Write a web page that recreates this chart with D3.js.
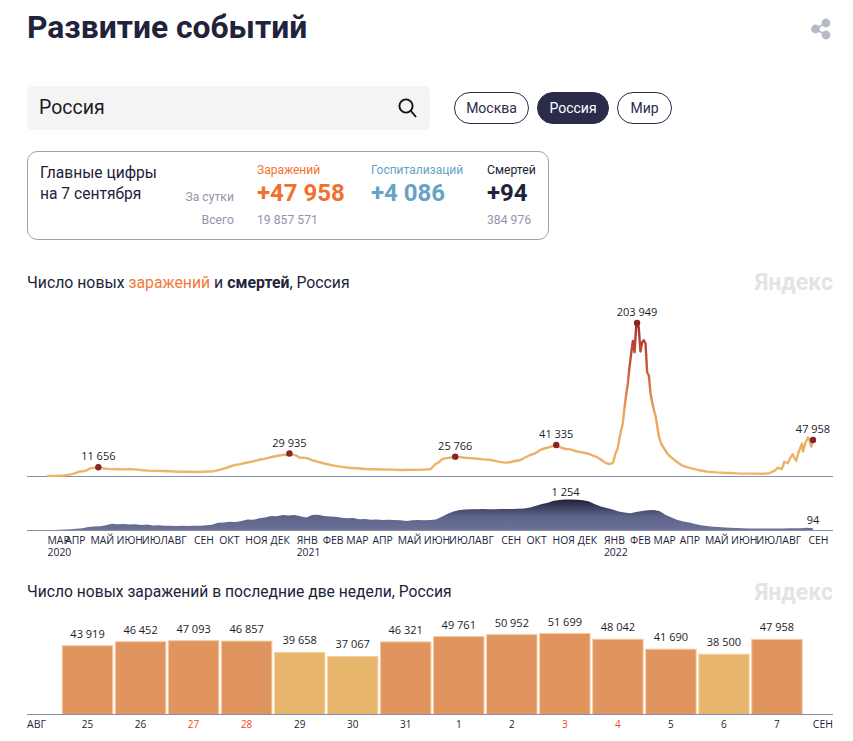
<!DOCTYPE html>
<html lang="ru">
<head>
<meta charset="utf-8">
<title>Развитие событий</title>
<script src="https://cdn.jsdelivr.net/npm/d3@7"></script>
<style>
  html, body { margin: 0; padding: 0; background: #fff; }
  svg { display: block; }
  text { font-family: Roboto, "Noto Sans", sans-serif; fill: #21233a; }
  .num text, text.num { font-family: "Open Sans", "Noto Sans", sans-serif; font-size: 11px; }
</style>
</head>
<body>
<svg id="chart"></svg>
<script>
// days counted from the first day of the series (11 March 2020)
const startDate = new Date(2020, 2, 11);

const caseDays = [0, 10, 20, 27, 33, 39, 43, 47, 50, 53, 57, 61, 66, 72, 78, 84, 90, 96, 102, 108, 114, 120, 128, 136, 144, 152, 160, 168, 176, 184, 192, 198, 204, 210, 216, 222, 228, 234, 240, 246, 252, 258, 264, 270, 274, 278, 282, 286, 288, 292, 296, 300, 306, 310, 315, 320, 328, 338, 348, 358, 368, 378, 388, 400, 410, 420, 430, 440, 450, 456, 458, 461, 465, 470, 475, 480, 485, 490, 497, 503, 511, 518, 525, 532, 538, 544, 550, 556, 562, 568, 574, 580, 586, 592, 598, 605, 610, 616, 622, 628, 634, 642, 648, 654, 660, 664, 668, 672, 673, 675, 678, 680, 682, 684, 686, 688, 690, 692, 694, 696, 698, 700, 701, 703, 705, 707, 709, 711, 713, 715, 717, 719, 721, 723, 725, 727, 730, 733, 737, 741, 748, 755, 761, 767, 775, 784, 795, 803, 811, 820, 830, 839, 848, 853, 858, 862, 865, 868, 871, 873, 876, 878, 880, 883, 886, 888, 890, 893, 897, 898, 901, 904, 906, 908, 910];
const caseValues = [20, 150, 600, 1800, 3500, 6000, 6400, 7400, 9500, 10600, 10900, 11656, 10400, 9500, 9200, 9000, 8800, 9000, 8900, 8500, 7600, 7100, 6800, 6700, 6300, 6000, 5700, 5600, 5300, 5700, 5900, 6400, 7800, 9800, 12000, 14400, 15500, 17000, 18300, 19800, 21600, 22800, 24500, 26000, 27000, 27600, 28500, 28000, 29935, 28600, 27400, 24700, 24200, 23500, 21000, 19500, 17000, 14500, 12500, 11000, 10300, 9300, 9000, 8700, 8500, 8000, 8300, 8200, 8600, 9300, 12000, 15500, 18000, 22800, 23800, 24600, 25766, 25200, 24300, 23800, 23000, 22200, 21700, 20200, 18800, 17800, 18300, 20000, 21000, 24700, 28000, 30300, 34700, 37000, 38800, 41335, 38200, 36000, 35500, 33000, 31800, 30000, 27500, 24800, 20500, 17200, 16000, 17200, 19500, 29000, 37000, 50000, 61000, 70000, 90000, 108000, 123000, 145000, 163000, 180000, 165000, 200000, 203949, 198000, 166000, 178000, 181000, 177000, 138000, 134000, 110000, 98000, 88000, 80000, 66000, 52000, 42000, 37000, 30000, 25500, 19000, 13800, 11500, 9800, 7600, 5800, 4800, 4300, 4000, 3500, 3200, 3100, 3000, 3000, 3800, 5800, 7500, 11000, 10000, 9300, 19000, 18000, 17000, 24000, 29000, 24000, 20000, 32000, 43500, 32500, 44000, 51500, 47000, 39000, 47958];

// one value per week from startDate
const deathValues = [10, 20, 30, 40, 55, 70, 95, 140, 165, 175, 215, 270, 255, 262, 245, 250, 225, 240, 205, 215, 190, 195, 180, 190, 185, 195, 190, 215, 230, 310, 325, 355, 345, 385, 440, 430, 495, 530, 590, 575, 625, 610, 630, 580, 525, 625, 640, 590, 570, 555, 515, 495, 505, 460, 470, 435, 440, 420, 435, 425, 415, 385, 410, 420, 415, 425, 440, 560, 680, 770, 825, 845, 860, 855, 865, 860, 858, 865, 868, 870, 875, 885, 930, 1000, 1070, 1120, 1200, 1235, 1254, 1250, 1245, 1225, 1170, 1060, 970, 910, 850, 770, 730, 700, 745, 785, 815, 825, 775, 630, 530, 420, 360, 320, 265, 215, 185, 155, 140, 125, 110, 105, 95, 85, 80, 78, 78, 80, 82, 85, 90, 92, 95, 110, 94];

const caseMarkerDays = [61, 288, 485, 605, 701, 910];
const deathLabelWeeks = [88, 130];

const monthLabels = ["МАР", "АПР", "МАЙ", "ИЮН", "ИЮЛ", "АВГ", "СЕН", "ОКТ", "НОЯ", "ДЕК", "ЯНВ", "ФЕВ", "МАР", "АПР", "МАЙ", "ИЮН", "ИЮЛ", "АВГ", "СЕН", "ОКТ", "НОЯ", "ДЕК", "ЯНВ", "ФЕВ", "МАР", "АПР", "МАЙ", "ИЮН", "ИЮЛ", "АВГ", "СЕН"];

const barDays = ["25", "26", "27", "28", "29", "30", "31", "1", "2", "3", "4", "5", "6", "7"];
const barValues = [43919, 46452, 47093, 46857, 39658, 37067, 46321, 49761, 50952, 51699, 48042, 41690, 38500, 47958];
const weekendDays = ["27", "28", "3", "4"];

const fmt = v => String(v).replace(/\B(?=(\d{3})+$)/g, " ");

const width = 853;
const height = 741;

const svg = d3.select("#chart").attr("width", width).attr("height", height);
const defs = svg.append("defs");

function txt(x, y, s, size, color, opts = {}) {
    return svg.append("text")
        .attr("x", x).attr("y", y)
        .attr("text-anchor", opts.anchor || "start")
        .style("font-size", size + "px")
        .style("font-weight", opts.weight || 400)
        .style("fill", color)
        .text(s);
}

// --- header ---
txt(27, 38, "Развитие событий", 31.8, "#21233a", { weight: 700 });

const share = svg.append("g").attr("fill", "#b5b9c9").attr("stroke", "#b5b9c9").attr("stroke-width", 1.6);
share.append("path").attr("fill", "none").attr("d", "M826 23L815 29L826 35");
share.append("circle").attr("cx", 826).attr("cy", 23).attr("r", 3.6);
share.append("circle").attr("cx", 815.5).attr("cy", 29).attr("r", 3.6);
share.append("circle").attr("cx", 826).attr("cy", 35).attr("r", 3.6);

// --- search and region switch ---
svg.append("rect").attr("x", 27).attr("y", 86).attr("width", 403).attr("height", 44).attr("rx", 6).attr("fill", "#f4f4f4");
txt(39, 114, "Россия", 19.5, "#1b1b1f");
const glass = svg.append("g").attr("fill", "none").attr("stroke", "#111").attr("stroke-width", 1.9);
glass.append("circle").attr("cx", 406).attr("cy", 106).attr("r", 6.6);
glass.append("line").attr("x1", 411).attr("y1", 111).attr("x2", 416).attr("y2", 117);

const pills = [
    { label: "Москва", x: 454, w: 75, on: false },
    { label: "Россия", x: 537, w: 72, on: true },
    { label: "Мир", x: 617, w: 55, on: false }
];
pills.forEach(p => {
    svg.append("rect").attr("x", p.x + 0.5).attr("y", 92.5).attr("width", p.w - 1).attr("height", 31).attr("rx", 15.5)
        .attr("fill", p.on ? "#2a2c4a" : "#fff").attr("stroke", "#2a2c4a");
    txt(p.x + p.w / 2, 113, p.label, 14, p.on ? "#fff" : "#2a2c4a", { anchor: "middle" });
});

// --- key figures card ---
svg.append("rect").attr("x", 27.5).attr("y", 151.5).attr("width", 521).attr("height", 88).attr("rx", 10)
    .attr("fill", "#fff").attr("stroke", "#9a9fb3");
txt(40, 178, "Главные цифры", 15.6, "#21233a");
txt(40, 199, "на 7 сентября", 15.6, "#21233a");
txt(234, 201, "За сутки", 12.2, "#9296ad", { anchor: "end" });
txt(234, 224, "Всего", 12.2, "#9296ad", { anchor: "end" });
txt(257, 174, "Заражений", 12, "#f2702e");
txt(257, 201, "+47 958", 24, "#f2702e", { weight: 700 });
txt(257, 224, "19 857 571", 12.2, "#9296ad");
txt(371, 174, "Госпитализаций", 12, "#67a3c6");
txt(371, 201, "+4 086", 24, "#67a3c6", { weight: 700 });
txt(487, 174, "Смертей", 12.2, "#21233a");
txt(487, 201, "+94", 24, "#21233a", { weight: 700 });
txt(487, 224, "384 976", 12.2, "#9296ad");

// --- titles ---
const t1 = txt(27, 288, "", 15.8, "#21233a");
t1.append("tspan").text("Число новых ");
t1.append("tspan").style("fill", "#f07a3a").text("заражений");
t1.append("tspan").text(" и ");
t1.append("tspan").style("font-weight", 700).text("смертей");
t1.append("tspan").text(", Россия");
txt(27, 597, "Число новых заражений в последние две недели, Россия", 15.65, "#21233a");
txt(833, 290, "Яндекс", 23, "#e4e4e4", { anchor: "end", weight: 700 });
txt(833, 600, "Яндекс", 23, "#e4e4e4", { anchor: "end", weight: 700 });

// --- scales ---
const dayDate = d => d3.timeDay.offset(startDate, d);
const x = d3.scaleTime().domain([startDate, new Date(2022, 8, 7)]).range([47, 813]);
const yCases = d3.scaleLinear().domain([0, 203949]).range([476, 323]);
const yDeaths = d3.scaleLinear().domain([0, 1254]).range([530.5, 499.5]);

// line colour goes by height
const lineGrad = defs.append("linearGradient").attr("id", "lineGrad").attr("gradientUnits", "userSpaceOnUse")
    .attr("x1", 0).attr("x2", 0).attr("y1", yCases(0)).attr("y2", yCases(203949));
lineGrad.append("stop").attr("offset", "0%").attr("stop-color", "#ecb66b");
lineGrad.append("stop").attr("offset", "40%").attr("stop-color", "#e8a85f");
lineGrad.append("stop").attr("offset", "70%").attr("stop-color", "#cc5a3a");
lineGrad.append("stop").attr("offset", "100%").attr("stop-color", "#a82f2c");

const areaGrad = defs.append("linearGradient").attr("id", "areaGrad").attr("gradientUnits", "userSpaceOnUse")
    .attr("x1", 0).attr("x2", 0).attr("y1", yDeaths(0)).attr("y2", yDeaths(1254));
areaGrad.append("stop").attr("offset", "0%").attr("stop-color", "#6c7197");
areaGrad.append("stop").attr("offset", "45%").attr("stop-color", "#5f648a");
areaGrad.append("stop").attr("offset", "100%").attr("stop-color", "#1f2138");

// --- deaths area ---
const deaths = deathValues.map((v, i) => ({ date: dayDate(i * 7), v }));
svg.append("path").datum(deaths)
    .attr("fill", "url(#areaGrad)")
    .attr("d", d3.area().x(d => x(d.date)).y0(yDeaths(0)).y1(d => yDeaths(d.v)));

// --- axis lines ---
[476.5, 530.5].forEach(y => {
    svg.append("line").attr("x1", 27).attr("x2", 833).attr("y1", y).attr("y2", y).attr("stroke", "#8a8fa8");
});

// --- cases line ---
const cases = caseDays.map((d, i) => ({ date: dayDate(d), v: caseValues[i] }));
svg.append("path").datum(cases)
    .attr("fill", "none")
    .attr("stroke", "url(#lineGrad)")
    .attr("stroke-width", 2.4)
    .attr("stroke-linejoin", "round")
    .attr("d", d3.line().x(d => x(d.date)).y(d => yCases(d.v)));

const markers = caseMarkerDays.map(d => ({ date: dayDate(d), v: caseValues[caseDays.indexOf(d)] }));
svg.append("g").selectAll("circle").data(markers).join("circle")
    .attr("cx", d => x(d.date)).attr("cy", d => yCases(d.v)).attr("r", 3.2).attr("fill", "#8b2226");
svg.append("g").attr("class", "num").selectAll("text").data(markers).join("text")
    .attr("x", d => x(d.date)).attr("y", d => yCases(d.v) - 7)
    .attr("text-anchor", "middle").style("fill", "#1c1c2b").text(d => fmt(d.v));

svg.append("g").attr("class", "num").selectAll("text").data(deathLabelWeeks).join("text")
    .attr("x", w => x(dayDate(w * 7))).attr("y", w => yDeaths(deathValues[w]) - 4)
    .attr("text-anchor", "middle").style("fill", "#1c1c2b").text(w => fmt(deathValues[w]));

// --- month axis ---
const monthTicks = monthLabels.map((m, i) => i === 0 ? startDate : new Date(2020, 2 + i, 1));
const monthAxis = d3.axisBottom(x).tickValues(monthTicks).tickSize(0).tickPadding(0)
    .tickFormat((d, i) => monthLabels[i]);
const gMonths = svg.append("g").attr("class", "num").attr("transform", "translate(0,533)").call(monthAxis);
gMonths.select(".domain").remove();
gMonths.selectAll("text").attr("text-anchor", "start").attr("dy", 0).attr("y", 11)
    .style("font-size", "10.4px").style("fill", "#21233a");
gMonths.selectAll(".tick").each(function (d, i) {
    const yearRow = i === 0 ? "2020" : d.getMonth() === 0 ? String(d.getFullYear()) : null;
    if (yearRow) {
        d3.select(this).append("text").attr("x", 0).attr("y", 23).attr("text-anchor", "start")
            .style("font-size", "10.4px").style("fill", "#21233a").text(yearRow);
    }
});

// --- last two weeks bars ---
const xBar = d3.scaleBand().domain(d3.range(barDays.length)).range([61, 803.5]).paddingInner(0.05).paddingOuter(0.025);
const yBar = d3.scaleLinear().domain([0, 51699]).range([714.5, 633.5]);
const barFill = v => v < 40000 ? "#e8b56c" : "#e0955e";
const barEdge = v => v < 40000 ? "#f3d5a2" : "#f3c7a2";

svg.append("g").selectAll("rect").data(barValues).join("rect")
    .attr("x", (d, i) => xBar(i))
    .attr("y", d => yBar(d))
    .attr("width", xBar.bandwidth())
    .attr("height", d => yBar(0) - yBar(d))
    .attr("fill", barFill)
    .attr("stroke", barEdge)
    .attr("stroke-width", 1);

svg.append("g").attr("class", "num").selectAll("text").data(barValues).join("text")
    .attr("x", (d, i) => xBar(i) + xBar.bandwidth() / 2)
    .attr("y", d => yBar(d) - 8)
    .attr("text-anchor", "middle").style("fill", "#1c1c2b").text(fmt);

svg.append("line").attr("x1", 27).attr("x2", 833).attr("y1", 714.5).attr("y2", 714.5).attr("stroke", "#8a8fa8");

const dayAxis = d3.axisBottom(xBar).tickSize(0).tickPadding(0).tickFormat(i => barDays[i]);
const gDays = svg.append("g").attr("class", "num").attr("transform", "translate(0,714)").call(dayAxis);
gDays.select(".domain").remove();
gDays.selectAll("text").attr("dy", 0).attr("y", 14).style("font-size", "10px")
    .style("fill", i => weekendDays.includes(barDays[i]) ? "#f0452f" : "#21233a");

txt(27, 728, "АВГ", 10.5, "#21233a").style("font-family", '"Open Sans", sans-serif');
txt(833, 728, "СЕН", 10.5, "#21233a", { anchor: "end" }).style("font-family", '"Open Sans", sans-serif');
</script>
</body>
</html>
